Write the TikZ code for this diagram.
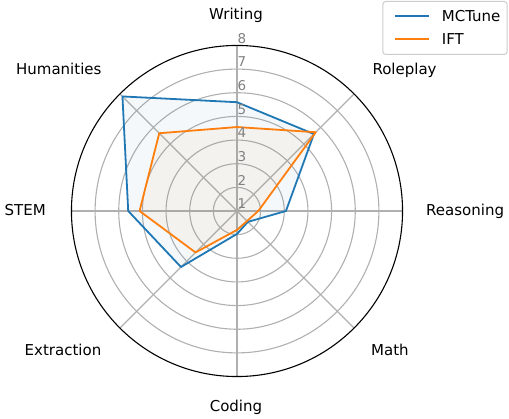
\documentclass[tikz,border=0pt]{standalone}
\usepackage{fontspec}
\setmainfont{DejaVu Sans}
\usepackage{xcolor}
\usetikzlibrary{positioning}
\definecolor{mctblue}{HTML}{1F77B4}
\definecolor{iftorange}{HTML}{FF7F0E}
\definecolor{gridgray}{HTML}{B0B0B0}
\def\ru{23.65}

\begin{document}
\begin{tikzpicture}[x=1pt, y=1pt,
        gridline/.style={gridgray, line width=1.1pt},
        rim/.style={black, line width=1.1pt},
        series/.style={line width=1.8pt, line join=round, fill opacity=0.05},
        axislabel/.style={font=\fontsize{15}{18}\selectfont, inner sep=0pt},
        ticklabel/.style={font=\fontsize{13.5}{16}\selectfont, text=gray, inner sep=0pt, anchor=south west},
        legendbox/.style={draw=black!20, fill=white, rounded corners=3pt, line width=1pt, minimum width=124.4pt, minimum height=53pt, anchor=north east},
        legendtext/.style={font=\fontsize{15}{18}\selectfont, inner sep=0pt}
    ]
        \useasboundingbox (-237,-208) rectangle (272,211);

        % grid
        \foreach \v in {2,...,7}
            \draw[gridline] (0,0) circle ({(\v-1)*\ru});
        \foreach \a in {0,45,...,315}
            \draw[gridline] (0,0) -- (\a:{7*\ru});

        % series
        \filldraw[series, draw=mctblue, fill=mctblue]
            (90:{4.6*\ru}) -- (45:{4.6*\ru}) -- (0:{2.07*\ru}) -- (-45:{0.65*\ru})
            -- (-90:{0.97*\ru}) -- (-135:{3.35*\ru}) -- (180:{4.6*\ru}) -- (135:{6.85*\ru}) -- cycle;
        \filldraw[series, draw=iftorange, fill=iftorange]
            (90:{3.55*\ru}) -- (45:{4.71*\ru}) -- (0:{0.9*\ru}) -- (-45:{0.6*\ru})
            -- (-90:{0.8*\ru}) -- (-135:{2.48*\ru}) -- (180:{4.12*\ru}) -- (135:{4.65*\ru}) -- cycle;

        \draw[rim] (0,0) circle ({7*\ru});

        % radial ticks
        \foreach \v in {1,...,8}
            \node[ticklabel] (tick\v) at (0.5,{(\v-1)*\ru+2}) {\v};

        % categories
        \node[axislabel, anchor=base] (writing) at (-1,191.7) {Writing};
        \node[axislabel, anchor=base west] (roleplay) at (135.3,136) {Roleplay};
        \node[axislabel, anchor=base west] (reasoning) at (189,-5) {Reasoning};
        \node[axislabel, anchor=base west] (math) at (134,-145) {Math};
        \node[axislabel, anchor=base] (coding) at (-1,-200.7) {Coding};
        \node[axislabel, anchor=base east] (extraction) at (-135.5,-145) {Extraction};
        \node[axislabel, anchor=base east] (stem) at (-191,-4.7) {STEM};
        \node[axislabel, anchor=base east] (humanities) at (-135.3,136) {Humanities};

        % legend
        \node[legendbox] (legend) at (270.7,210) {};
        \coordinate (mctstart) at (158,195.3);
        \coordinate (mctend) at (192,195.3);
        \coordinate (iftstart) at (158,171.7);
        \coordinate (iftend) at (192,171.7);
        \draw[mctblue, line width=1.8pt] (mctstart) -- (mctend);
        \draw[iftorange, line width=1.8pt] (iftstart) -- (iftend);
        \node[legendtext, right=12.7pt of mctend] (mctlabel) {MCTune};
        \node[legendtext, right=12.7pt of iftend] (iftlabel) {IFT};
    \end{tikzpicture}
\end{document}
